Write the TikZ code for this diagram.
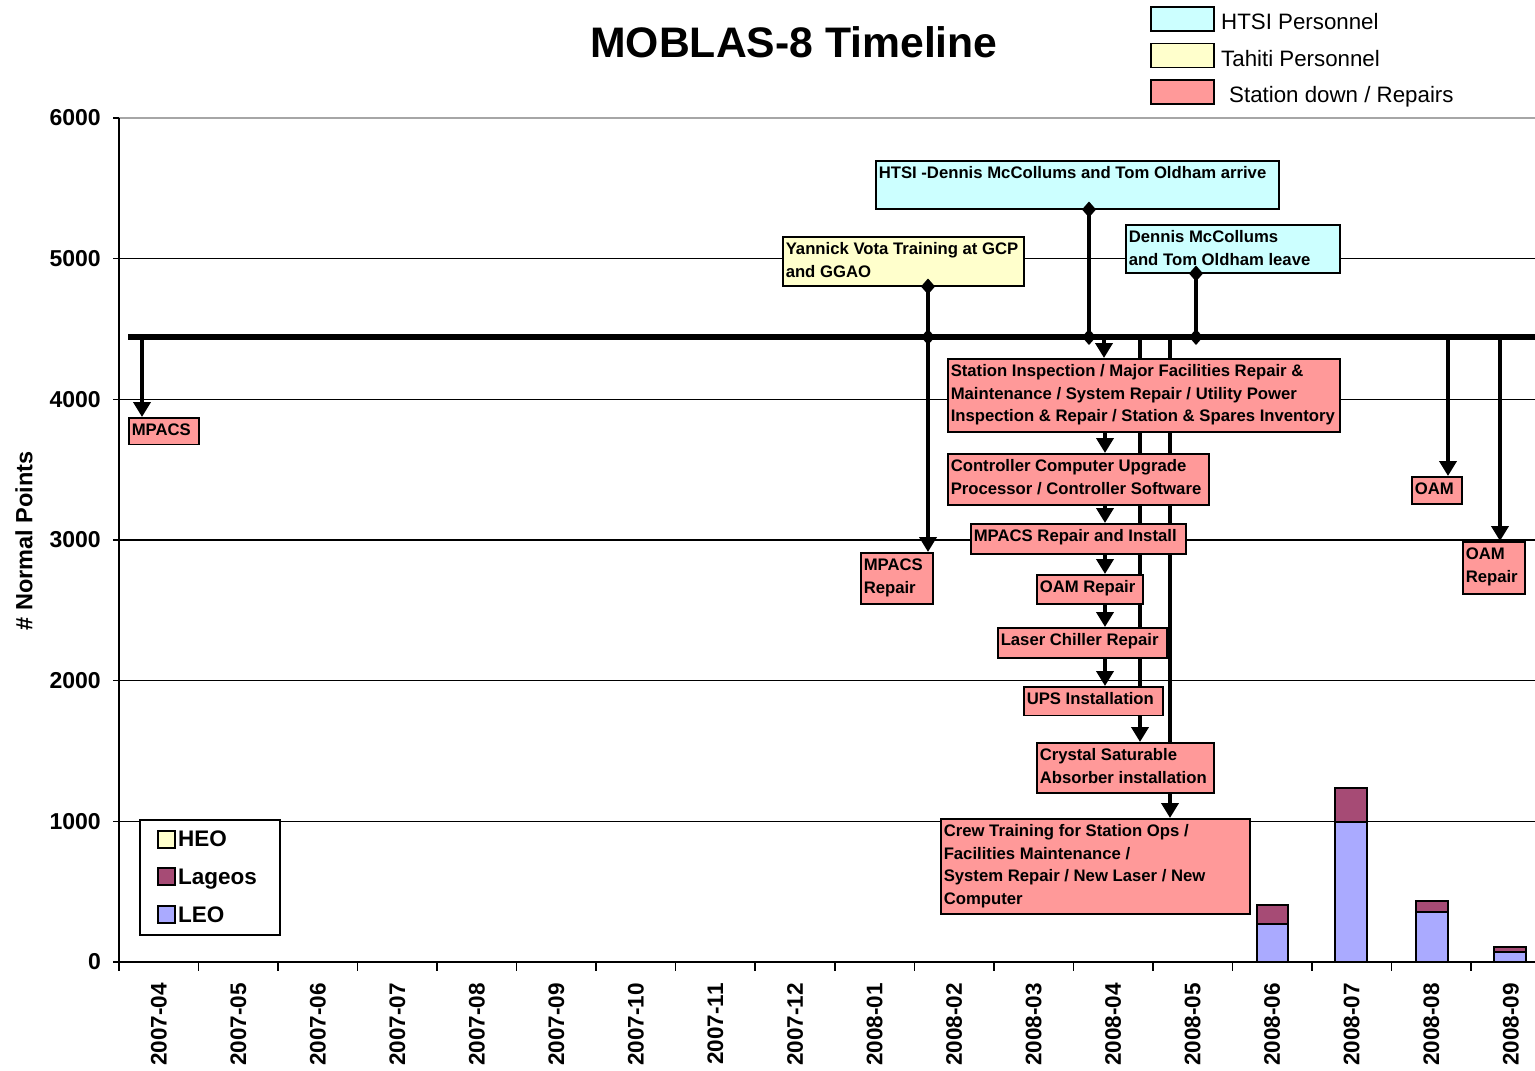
\documentclass[tikz,border=0pt]{standalone}
\usepackage{fontspec}
\setmainfont{Liberation Sans}
\usetikzlibrary{arrows.meta}
\pgfdeclarelayer{back}
\pgfdeclarelayer{mid}
\pgfdeclarelayer{front}
\pgfsetlayers{back,mid,main,front}
\definecolor{salmon}{HTML}{FF9999}
\definecolor{htsicyan}{HTML}{CCFFFF}
\definecolor{tahiti}{HTML}{FFFFCC}
\definecolor{leo}{HTML}{AAAAFF}
\definecolor{lageos}{HTML}{A64B75}
\newcommand{\evtxt}[3]{\parbox[c][\dimexpr#2pt-4pt\relax][t]{\dimexpr#1pt-6pt\relax}{\begin{tabular}[t]{@{}l@{}}#3\end{tabular}}}
\begin{document}
\begin{tikzpicture}[x=1pt,y=-1pt,
  evt/.style={draw, line width=1.5pt, fill=salmon, inner xsep=3pt, inner ysep=2pt, anchor=north west, font=\fontsize{16.7}{22.5}\selectfont\bfseries},
  arr/.style={line width=4.5pt, -{Triangle[width=17pt,length=15pt]}},
  dia/.style={line width=4.5pt, {Diamond[width=14pt,length=16pt]}-{Diamond[width=14pt,length=16pt]}, shorten <=-8pt, shorten >=-8pt},
  gridln/.style={line width=1.3pt},
  barbox/.style={draw, line width=1.5pt},
  legsq/.style={draw, line width=1.5pt, minimum width=63pt, minimum height=24pt, inner sep=0pt},
  smsq/.style={draw, line width=1.5pt, minimum width=17pt, minimum height=17pt, inner sep=0pt},
  legtxt/.style={anchor=base west, inner sep=0pt, font=\fontsize{22.3}{26}\selectfont},
  leg2txt/.style={anchor=base west, inner sep=0pt, font=\fontsize{22.5}{26}\selectfont\bfseries},
  ylab/.style={anchor=east, inner sep=0pt, font=\fontsize{23}{27}\selectfont\bfseries},
  xlab/.style={anchor=east, rotate=90, inner sep=0pt, font=\fontsize{22.5}{27}\selectfont\bfseries}
]
\useasboundingbox (0,0) rectangle (1535,1071);

\begin{pgfonlayer}{back}
\fill[white] (0,0) rectangle (1535,1071);
% gridlines
\draw[line width=1.3pt, gray!70] (119,118) -- (1535,118);
\foreach \v in {1,...,5} {
  \draw[gridln] (119,{962-140.667*\v}) -- (1535,{962-140.667*\v});
}
% bars
\draw[barbox, fill=leo] (1257,962) rectangle (1288,924);
\draw[barbox, fill=lageos] (1257,924) rectangle (1288,905);
\draw[barbox, fill=leo] (1335,962) rectangle (1367,822);
\draw[barbox, fill=lageos] (1335,822) rectangle (1367,788);
\draw[barbox, fill=leo] (1416,962) rectangle (1448,912);
\draw[barbox, fill=lageos] (1416,912) rectangle (1448,901);
\draw[barbox, fill=leo] (1494,962) rectangle (1526,952);
\draw[barbox, fill=lageos] (1494,952) rectangle (1526,947);
% axes
\draw[line width=2pt] (119,118) -- (119,962) -- (1535,962);
\foreach \v in {0,...,6} {
  \draw[line width=1.5pt] (113,{962-140.667*\v}) -- (119,{962-140.667*\v});
}
\foreach \k in {0,...,17} {
  \draw[line width=1.5pt] ({119+79.53*\k},962) -- ({119+79.53*\k},971);
}
\end{pgfonlayer}

% title
\node[anchor=base, inner sep=0pt, font=\fontsize{42.7}{50}\selectfont\bfseries] (title) at (794,57) {MOBLAS-8 Timeline};

% top-right legend
\node[legsq, fill=htsicyan] (lg1) at (1182.5,19) {};
\node[legsq, fill=tahiti] (lg2) at (1182.5,55.5) {};
\node[legsq, fill=salmon] (lg3) at (1182.5,92) {};
\node[legtxt] (lt1) at (1221,29) {HTSI Personnel};
\node[legtxt] (lt2) at (1221,66) {Tahiti Personnel};
\node[legtxt] (lt3) at (1229,102) {Station down / Repairs};

% axis labels
\foreach \v/\t in {0/0,1/1000,2/2000,3/3000,4/4000,5/5000,6/6000} {
  \node[ylab] (yl\v) at (101,{962-140.667*\v}) {\t};
}
\foreach \lab [count=\k from 0] in {2007-04,2007-05,2007-06,2007-07,2007-08,2007-09,2007-10,2007-11,2007-12,2008-01,2008-02,2008-03,2008-04,2008-05,2008-06,2008-07,2008-08,2008-09} {
  \node[xlab] (xl\k) at ({119+79.53*(\k+0.5)},983) {\lab};
}
\node[rotate=90, inner sep=0pt, font=\fontsize{23.5}{27}\selectfont\bfseries] (ytitle) at (24,541) {\# Normal Points};

% bottom-left legend
\node[draw, fill=white, line width=1.5pt, minimum width=140pt, minimum height=115pt, inner sep=0pt, anchor=north west] (leg) at (139,819) {};
\node[smsq, fill=tahiti] (sqh) at (166.5,839.5) {};
\node[smsq, fill=lageos] (sqg) at (166.5,876.5) {};
\node[smsq, fill=leo] (sql) at (166.5,914.5) {};
\node[leg2txt] (lh) at (178,846) {HEO};
\node[leg2txt] (lg) at (178,884) {Lageos};
\node[leg2txt] (ll) at (178,922) {LEO};

% timeline coordinates
\coordinate (tlA) at (128,337);
\coordinate (tlB) at (1535,337);
\coordinate (t0) at (142,337);
\coordinate (tY) at (928,337);
\coordinate (tH) at (1089,337);
\coordinate (tS) at (1104,337);
\coordinate (tC) at (1140,337);
\coordinate (tW) at (1170,337);
\coordinate (tD) at (1196,337);
\coordinate (tO) at (1448,337);
\coordinate (tR) at (1500,337);
\coordinate (cx) at (1105,337);

% event boxes
\path node[evt] (mp) at (128,417) {\evtxt{70}{26.5}{MPACS}}
      node[evt] (mpr) at (860,552) {\evtxt{72}{51}{MPACS\\Repair}}
      node[evt, fill=tahiti] (yan) at (782,236) {\evtxt{241}{49}{Yannick Vota Training at GCP\\and GGAO}}
      node[evt, fill=htsicyan] (htsi) at (875,160) {\evtxt{403}{48}{HTSI -Dennis McCollums and Tom Oldham arrive}}
      node[evt, fill=htsicyan] (dl) at (1125,224) {\evtxt{214}{48}{Dennis McCollums\\and Tom Oldham leave}}
      node[evt] (sta) at (947,358) {\evtxt{392}{73}{Station Inspection / Major Facilities Repair \&\\Maintenance / System Repair / Utility Power\\Inspection \& Repair / Station \& Spares Inventory}}
      node[evt] (ctl) at (947,453) {\evtxt{261}{51}{Controller Computer Upgrade\\Processor / Controller Software}}
      node[evt] (mri) at (970,523) {\evtxt{215}{30}{MPACS Repair and Install}}
      node[evt] (oamr1) at (1036,574) {\evtxt{106}{29}{OAM Repair}}
      node[evt] (las) at (997,627) {\evtxt{169}{30}{Laser Chiller Repair}}
      node[evt] (ups) at (1023,686) {\evtxt{139}{28.5}{UPS Installation}}
      node[evt] (cry) at (1036,742) {\evtxt{177}{50}{Crystal Saturable\\Absorber installation}}
      node[evt] (crew) at (940,818) {\evtxt{309}{95}{Crew Training for Station Ops /\\Facilities Maintenance /\\System Repair / New Laser / New\\Computer}}
      node[evt] (oam) at (1411,476) {\evtxt{50}{27}{OAM}}
      node[evt] (oamr) at (1462,541) {\evtxt{62}{52}{OAM\\Repair}};

% timeline and long connectors (behind the boxes)
\begin{pgfonlayer}{mid}
\draw[line width=5.5pt] (tlA) -- (tlB);
\draw[arr] (t0) -- (t0 |- mp.north);
\draw[arr] (tY) -- (tY |- mpr.north);
\draw[arr] (tS) -- (tS |- sta.north);
\draw[arr] (tC) -- (tC |- cry.north);
\draw[arr] (tW) -- (tW |- crew.north);
\draw[arr] (tO) -- (tO |- oam.north);
\draw[arr] (tR) -- (tR |- oamr.north);
\end{pgfonlayer}

% diamonds and chain arrows (in front)
\begin{pgfonlayer}{front}
\draw[dia] (yan.south -| tY) -- (tY);
\draw[dia] (htsi.south -| tH) -- (tH);
\draw[dia] (dl.south -| tD) -- (tD);
\draw[arr] (sta.south -| cx) -- (cx |- ctl.north);
\draw[arr] (ctl.south -| cx) -- (cx |- mri.north);
\draw[arr] (mri.south -| cx) -- (cx |- oamr1.north);
\draw[arr] (oamr1.south -| cx) -- (cx |- las.north);
\draw[arr] (las.south -| cx) -- (cx |- ups.north);
\end{pgfonlayer}
\end{tikzpicture}
\end{document}
